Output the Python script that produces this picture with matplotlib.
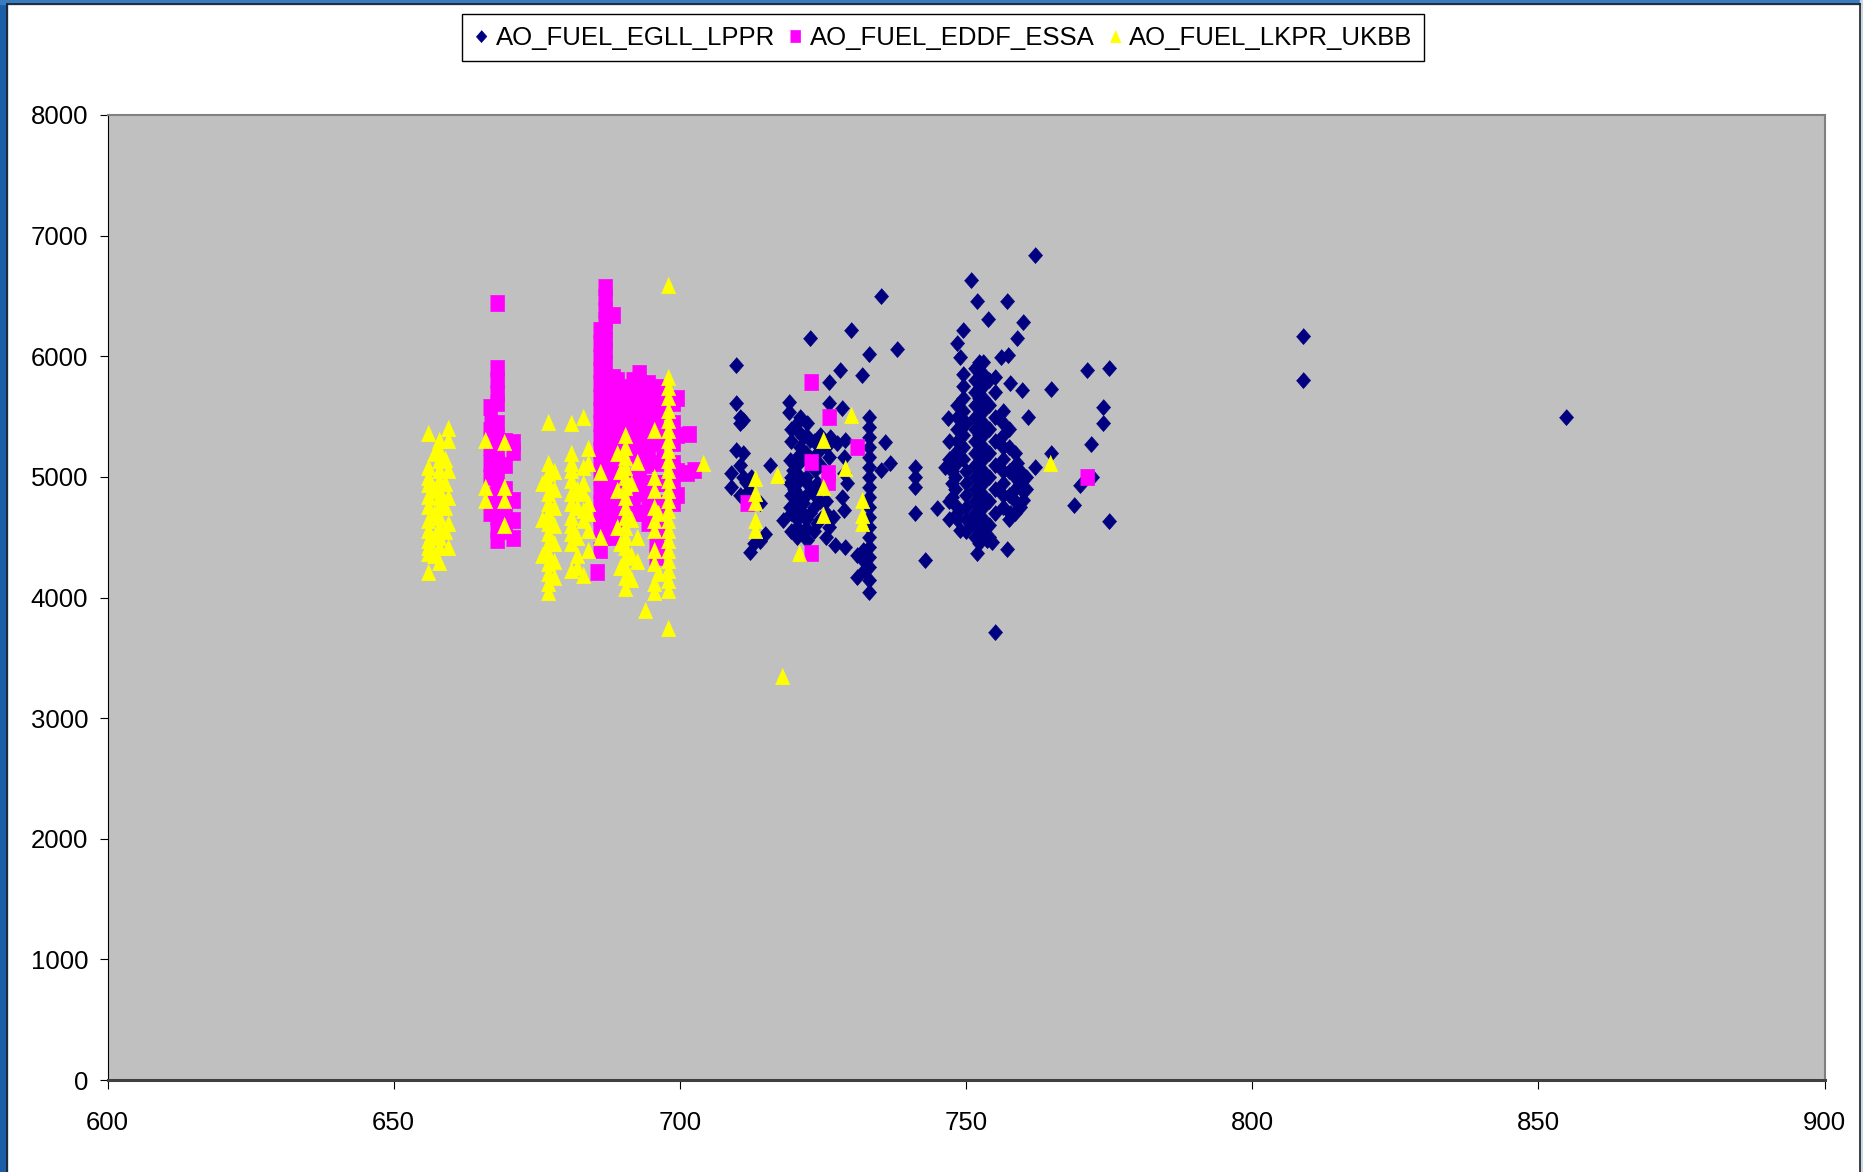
import matplotlib
matplotlib.use('Agg')
import matplotlib.pyplot as plt
from matplotlib.lines import Line2D
from matplotlib.patches import Rectangle

plt.rcParams['font.family'] = ['Liberation Sans', 'DejaVu Sans']

# AO_FUEL_EGLL_LPPR (navy diamonds)
egll_x = [709.9, 709.9, 710.5, 710.5, 711, 709.9, 711, 709, 711, 709, 711.5, 712, 712.2, 714, 714.8, 714, 715.8,
          710.5, 710.5, 713, 712.5,
          718.1, 719, 719, 721, 722.2, 720.4, 721.6, 722.8, 721, 720.4, 719.3, 722.8, 719.8, 721, 723.6, 719.3,
          722.2, 720.4, 723.3, 721.6, 719.3, 721, 722.8, 723.9, 720.4, 721.6, 722.2, 720, 722, 724, 724,
          719.5, 719.5, 719.5, 719.5, 719.5, 719.5, 720.5, 720.5, 720.5, 720.5, 720.5, 720.5,
          722, 722, 722, 722, 722, 722, 723.5, 723.5, 723.5, 723.5, 723.5,
          724.5, 724.5, 724.5, 724.5, 725.5, 725.5, 725.5,
          722.8, 726, 726, 726.2, 726, 726.8, 726, 725.5, 727.1, 728.9, 728, 728.3, 727.4, 728.9, 728.6, 728.6,
          729.2, 728.3, 728.6, 729.9, 731.9, 733.1, 735.1, 737.9, 735.9, 736.7, 735.2, 730.9, 730.9, 732.1, 732, 732,
          733.1, 733.1, 733.1, 733.1, 733.1, 733.1, 733.1, 733.1, 733.1, 733.1, 733.1, 733.1, 733.1, 733.1, 733.1,
          733.1, 733.1, 733.1,
          741.1, 741.1, 741.1, 741.1, 742.9, 744.9, 746.3, 746.9, 748.4, 747.5, 748.4, 749, 750.7, 748.4, 749.5,
          748.9, 750.8, 751.9, 753.9, 757.1, 759.9, 758.9, 762.1, 756.2, 757.4, 755.1, 757.7, 759.7, 760.9, 762.1,
          751.9, 757.1, 755, 753.6, 754.5,
          749.5, 749.5, 749.5, 749.5, 749.5, 749.5, 749.5, 749.5,
          751.5, 751.5, 751.5, 751.5, 751.5, 751.5, 751.5, 751.5, 751.5, 751.5, 751.5, 751.5, 751.5, 751.5, 751.5,
          753, 753, 753, 753, 753, 753, 753, 753, 753, 753, 753, 753, 753, 753, 753,
          756.5, 756.5, 756.5, 756.5, 756.5, 756.5, 756.5, 756.5, 756.5,
          758.5, 758.5, 758.5, 758.5, 758.5, 758.5,
          748, 748, 748, 748, 747.5, 747.5,
          747, 747, 747, 747, 748.5, 748.5, 748.5, 748.5, 748.5,
          750, 750, 750, 750, 750, 750, 750,
          752.2, 752.2, 752.2, 752.2, 752.2, 752.2,
          754, 754, 754, 754, 754, 754, 754, 754,
          755, 755, 755, 755, 755, 755,
          757.5, 757.5, 757.5, 757.5, 757.5, 759.5, 759.5, 759.5, 760.5, 760.5,
          758.9, 759.7, 760, 757.7, 764.8, 771.1, 774.9, 773.9, 773.9, 771.8, 764.8, 769.9, 772, 768.9, 774.9,
          808.8, 808.8, 854.9]
egll_y = [5927, 5610, 5499, 5445, 5470, 5223, 5195, 5030, 5002, 4919, 4960, 4890, 4380, 4470, 4530, 4780, 5098,
          5100, 4850, 4450, 5000,
          4642, 5623, 5540, 5499, 5444, 5389, 5333, 5306, 5250, 5168, 5140, 5112, 5057, 5002, 5057, 4946,
          4946, 4863, 4863, 4781, 4753, 4725, 4698, 4615, 4587, 4532, 4477, 4900, 5200, 4950, 5200,
          5400, 5300, 5000, 4850, 4700, 4550, 5450, 5100, 4950, 4800, 4650, 4500,
          5350, 5150, 5000, 4850, 4650, 4580, 5300, 5150, 4900, 4750, 4550,
          5350, 5100, 4800, 4650, 5250, 4700, 4500,
          6148, 5789, 5610, 5333, 5168, 4670, 4587, 4800, 4435, 4421, 5886, 5568, 5278, 5306, 5168, 5029,
          4946, 4836, 4725, 6218, 5844, 6018, 6499, 6060, 5292, 5112, 5057, 4352, 4173, 4228, 4394, 4311,
          5499, 5416, 5333, 5250, 5168, 5085, 5002, 4919, 4836, 4753, 4670, 4587, 4504, 4421, 4338,
          4256, 4145, 4048,
          5085, 5002, 4919, 4698, 4311, 4739, 5085, 5485, 5499, 4836, 4753, 4560, 4615, 6107, 6218,
          5997, 6632, 6461, 6306, 6461, 6287, 6148, 6840, 5997, 6010, 5831, 5776, 5720, 5499, 5079,
          4366, 4402, 3715, 4477, 4463,
          5850, 5750, 5650, 5550, 5450, 5350, 5250, 5150,
          5900, 5800, 5700, 5600, 5500, 5400, 5300, 5200, 5100, 5000, 4900, 4800, 4700, 4600, 4500,
          5950, 5850, 5750, 5650, 5550, 5450, 5350, 5250, 5150, 5050, 4950, 4850, 4750, 4650, 4550,
          5550, 5450, 5350, 5250, 5150, 5050, 4950, 4850, 4750,
          5200, 5100, 5000, 4900, 4800, 4700,
          5200, 5100, 5000, 4900, 5050, 4950,
          5300, 5150, 4800, 4650, 5600, 5400, 5300, 4650, 4700,
          5450, 5050, 4950, 4850, 4750, 4650, 4550,
          5950, 5650, 5350, 5050, 4750, 4450,
          5800, 5600, 5400, 5200, 5000, 4800, 4600, 4500,
          5700, 5500, 5300, 5100, 4900, 4700,
          5400, 5250, 5050, 4850, 4650, 5050, 4950, 4750, 5000, 4900,
          5112, 4891, 4808, 4698, 5728, 5886, 5905, 5576, 5444, 5270, 5195, 4932, 5002, 4767, 4637,
          6171, 5806, 5499]

# AO_FUEL_EDDF_ESSA (magenta squares)
eddf_x = [666.8, 666.8, 666.8, 666.8, 666.8, 666.8, 667, 667,
          668, 668, 668, 668, 668, 668, 668, 668, 668, 668, 668, 668, 668, 668, 668,
          669.5, 669.5, 669.5, 669.5, 669.5,
          670.9, 670.9, 670.9, 670.9, 670.9,
          685.5,
          686, 686, 686, 686, 686, 686, 686, 686, 686, 686, 686, 686, 686, 686, 686, 686, 686,
          686.8, 686.8, 686.8, 686.8, 686.8, 686.8, 686.8,
          687, 687, 687, 687, 687, 687, 687, 687, 687,
          688.3, 688.3, 688.3, 688.3, 688.3, 688.3, 688.3, 688.3, 688.3, 688.3, 688.3, 688.3, 688.3, 688.3,
          689, 689, 689, 689, 689, 689, 689,
          689.8, 689.8, 689.8, 689.8, 689.8, 689.8, 689.8, 689.8,
          690.5, 690.5, 690.5, 690.5, 690.5,
          691, 691, 691,
          691.8, 691.8, 691.8, 691.8, 691.8, 691.8,
          692.8, 692.8, 692.8, 692.8, 692.8, 692.8, 692.8, 692.8, 692.8, 692.8, 692.8,
          693.8, 693.8, 693.8, 693.8, 693.8, 693.8,
          694.5, 694.5, 694.5, 694.5, 694.5, 694.5, 694.5, 694.5, 694.5, 694.5,
          695.8, 695.8, 695.8, 695.8, 695.8, 695.8, 695.8, 695.8, 695.8, 695.8, 695.8,
          697, 697, 697, 697, 697, 697, 697, 697,
          698.8, 698.8, 698.8, 698.8, 698.8, 698.8,
          699.5, 699.5, 699.5, 699.5,
          701.6, 701.2, 702.4, 711.7, 722.9, 722.9, 722.9, 726, 730.9, 725.9, 725.9, 771.1]
eddf_y = [5582, 5388, 5250, 5112, 5002, 4698, 5450, 4850,
          6444, 5900, 5803, 5693, 5610, 5444, 5333, 5223, 5112, 5002, 4891, 4781, 4670, 4560, 4477,
          5300, 5100, 4900, 4700, 4550,
          5292, 5209, 4808, 4642, 4490,
          4214,
          6217, 6107, 5997, 5886, 5775, 5665, 5554, 5444, 5333, 5223, 5112, 5002, 4891, 4781, 4670, 4560, 4394,
          5700, 5500, 5300, 5100, 4900, 4700, 4500,
          6577, 6494, 6383, 6300, 6217, 6135, 6052, 5941, 5831,
          6342, 5831, 5720, 5610, 5499, 5388, 5278, 5168, 5057, 4946, 4836, 4725, 4615, 4504,
          5800, 5550, 5350, 5150, 5000, 4800, 4600,
          5748, 5637, 5527, 5416, 5306, 5112, 4891, 4698,
          5700, 5450, 5200, 5000, 4800,
          5665, 5499, 5333,
          5800, 5600, 5400, 5200, 5000, 4750,
          5858, 5748, 5610, 5499, 5388, 5278, 5168, 5057, 4946, 4863, 4700,
          5700, 5500, 5300, 5100, 4900, 4700,
          5775, 5665, 5554, 5444, 5333, 5223, 5112, 4946, 4781, 4615,
          5748, 5610, 5499, 5388, 5278, 5112, 4946, 4781, 4615, 4449, 4338,
          5700, 5550, 5350, 5150, 4950, 4750, 4550, 4400,
          5610, 5444, 5278, 5112, 4946, 4781,
          5650, 5350, 5050, 4850,
          5355, 5035, 5055, 4786, 5789, 5126, 4366, 5499, 5250, 5030, 4960, 5002]

# AO_FUEL_LKPR_UKBB (yellow triangles)
lkpr_x = [656, 656, 656, 656, 656, 656, 656, 656, 656, 656, 656, 656,
          657, 657, 657, 657, 657,
          658, 658, 658, 658, 658, 658, 658, 658, 658, 658, 658, 658, 658,
          659, 659, 659, 659,
          659.5, 659.5, 659.5, 659.5, 659.5, 659.5,
          666, 666, 666, 669.2, 669.2, 669.2, 669.2,
          676, 676, 676,
          677, 677, 677, 677, 677, 677, 677, 677, 677, 677, 677, 677, 677, 677, 677, 678,
          678, 678, 678, 678, 678, 678,
          681, 681, 681, 681, 681, 681, 681, 681, 681, 681, 681, 681,
          682, 682, 682, 682, 682,
          683, 683, 683, 683, 683, 683, 683,
          684, 684, 684, 684, 684, 684,
          686, 686, 689, 689, 689, 689.5, 689.5, 689.5,
          690.5, 690.5, 690.5, 690.5, 690.5, 690.5, 690.5, 690.5, 690.5, 690.5, 690.5, 690.5, 690.5, 690.5,
          690.5, 690.5,
          691.5, 691.5, 691.5, 691.5,
          692.5, 692.5, 692.5, 694,
          695.5, 695.5, 695.5, 695.5, 695.5, 695.5, 695.5, 695.5, 695.5, 695.5,
          696.2, 696.2,
          698, 698, 698, 698, 698, 698, 698, 698, 698, 698, 698, 698, 698, 698, 698, 698, 698, 698, 698, 698,
          698, 698, 698, 698,
          704, 713.1, 713.1, 713.1, 713.1, 713.1, 716.9, 717.9, 720.8, 725, 725, 725, 728.9, 729.9,
          731.9, 731.9, 731.9, 764.7]
lkpr_y = [5360, 5085, 5000, 4945, 4840, 4755, 4640, 4560, 4480, 4420, 4365, 4210,
          5200, 4900, 4700, 4500, 4350,
          5306, 5223, 5140, 5057, 4974, 4891, 4836, 4753, 4670, 4587, 4504, 4421, 4297,
          5150, 4950, 4750, 4550,
          5402, 5306, 5057, 4836, 4615, 4421,
          5306, 4919, 4808, 5290, 4920, 4810, 4600,
          4950, 4650, 4350,
          5458, 5112, 5029, 4946, 4863, 4781, 4698, 4615, 4532, 4449, 4366, 4283, 4200, 4117, 4048, 4173,
          5050, 4900, 4750, 4600, 4450, 4300,
          5444, 5195, 5112, 5057, 4974, 4863, 4781, 4670, 4601, 4532, 4449, 4228,
          4900, 4750, 4500, 4350, 4250,
          5499, 5085, 4946, 4863, 4725, 4642, 4187,
          5237, 5112, 4781, 4698, 4560, 4394,
          5043, 4504, 5195, 4891, 4587, 5050, 4450, 4250,
          5347, 5250, 5168, 5085, 5002, 4919, 4836, 4753, 4670, 4587, 4504, 4421, 4338, 4256,
          4173, 4076,
          4950, 4650, 4350, 4150,
          5120, 4500, 4300, 3896,
          5388, 5002, 4891, 4753, 4642, 4560, 4394, 4283, 4117, 4048,
          4700, 4200,
          6591, 5831, 5748, 5665, 5554, 5471, 5388, 5306, 5223, 5140, 5057, 4974, 4891, 4808, 4725, 4642,
          4560, 4477, 4394, 4311, 4228, 4145, 4062, 3744,
          5112, 4988, 4863, 4794, 4642, 4560, 5015, 3350, 4366, 5306, 4919, 4684, 5071, 5513,
          4808, 4684, 4620, 5115]

series_names = ['AO_FUEL_EGLL_LPPR', 'AO_FUEL_EDDF_ESSA', 'AO_FUEL_LKPR_UKBB']
x_ticks = [600, 650, 700, 750, 800, 850, 900]
y_ticks = [0, 1000, 2000, 3000, 4000, 5000, 6000, 7000, 8000]

# Excel style markers (slightly taller than wide)
diamond = [(0, 1), (0.88, 0), (0, -1), (-0.88, 0)]
square = [(-0.86, -1), (0.86, -1), (0.86, 1), (-0.86, 1)]
triangle = [(0, 1), (0.88, -1), (-0.88, -1)]

W, H = 1863, 1172
fig = plt.figure(figsize=(W / 100, H / 100), dpi=100)

# slide background around the chart frame
fig.add_artist(Rectangle((0, 0), 7.5 / W, 1, transform=fig.transFigure, color='#1a5ea8', zorder=0))
fig.add_artist(Rectangle((0, 1 - 3.5 / H), 1, 3.5 / H, transform=fig.transFigure, color='#3a7cc0', zorder=0))
fig.add_artist(Rectangle((1860 / W, 0), 3 / W, 1, transform=fig.transFigure, color='#c8d8ea', zorder=0))
for xs, ys in [([7.5 / W, 7.5 / W], [0, 1 - 3.5 / H]),
               ([7.5 / W, 1859.5 / W], [1 - 3.5 / H, 1 - 3.5 / H]),
               ([1859.5 / W, 1859.5 / W], [0, 1 - 3.5 / H])]:
    fig.add_artist(Line2D(xs, ys, transform=fig.transFigure, color='#202020', lw=1.2))

ax = fig.add_axes([107.5 / W, 1 - 1080 / H, 1717 / W, 965 / H])
ax.set_facecolor('#c0c0c0')

ax.plot(egll_x, egll_y, linestyle='none', marker=diamond, ms=11.5, mew=0.5,
        color='#000080', label=series_names[0])
ax.plot(eddf_x, eddf_y, linestyle='none', marker=square, ms=11.8, mew=0.5,
        color='#ff00ff', label=series_names[1])
ax.plot(lkpr_x, lkpr_y, linestyle='none', marker=triangle, ms=11.8, mew=0.5,
        color='#ffff00', label=series_names[2])

ax.set_xlim(600, 900)
ax.set_ylim(0, 8000)
ax.set_xticks(x_ticks)
ax.set_yticks(y_ticks)
ax.tick_params(axis='both', direction='out', width=0.8, labelsize=18.5, colors='black')
ax.tick_params(axis='y', length=6, pad=8)
ax.tick_params(axis='x', length=6.5, pad=15.5)

ax.spines['left'].set_color('black')
ax.spines['left'].set_linewidth(0.8)
ax.spines['bottom'].set_color('#404040')
ax.spines['bottom'].set_linewidth(2.2)
ax.spines['top'].set_color('#808080')
ax.spines['top'].set_linewidth(1.5)
ax.spines['right'].set_color('#808080')
ax.spines['right'].set_linewidth(1.5)

leg = fig.legend(loc='upper center', bbox_to_anchor=(943 / W, 1 - 14 / H), ncol=3,
                 fontsize=18.5, frameon=True, fancybox=False, framealpha=1, edgecolor='black',
                 handlelength=0.6, handletextpad=0.25, columnspacing=0.5, borderpad=0.45,
                 markerscale=0.75, borderaxespad=0)
leg.get_frame().set_linewidth(1.0)

fig.savefig('out.png', dpi=100)
